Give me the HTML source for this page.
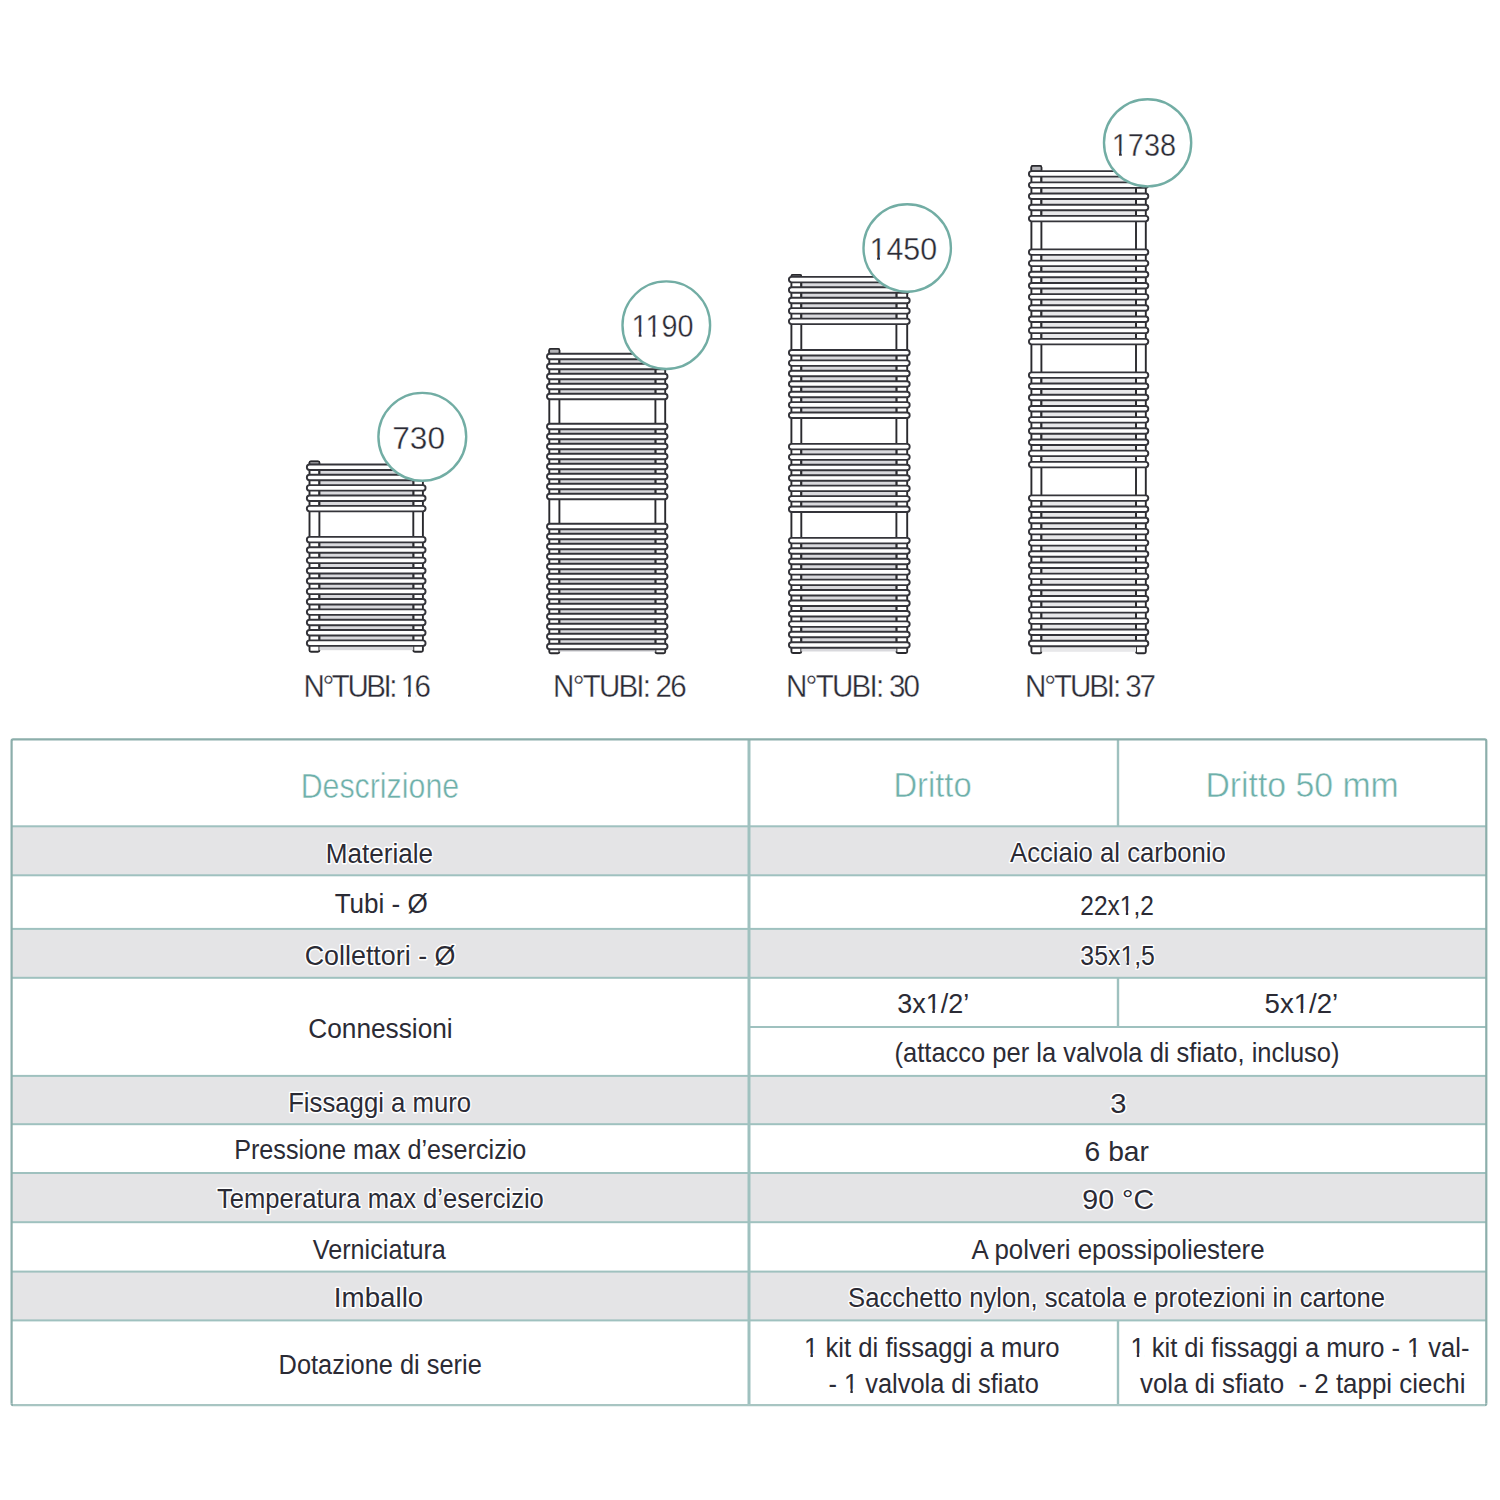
<!DOCTYPE html>
<html><head><meta charset="utf-8"><title>Scheda tecnica</title>
<style>
html,body{margin:0;padding:0;background:#fff;width:1500px;height:1500px;overflow:hidden}
svg{display:block}
text{font-family:"Liberation Sans",sans-serif}
</style></head><body>
<svg width="1500" height="1500" viewBox="0 0 1500 1500">
<rect width="1500" height="1500" fill="#fff"/>
<rect x="309.50" y="461.40" width="9.90" height="190.30" rx="1.5" fill="#fff" stroke="#2a2a2e" stroke-width="1.9"/>
<rect x="413.30" y="461.40" width="9.60" height="190.30" rx="1.5" fill="#fff" stroke="#2a2a2e" stroke-width="1.9"/>
<rect x="309.50" y="461.40" width="9.90" height="3.05" rx="1.2" fill="#b4b4b8" stroke="#2a2a2e" stroke-width="1.5"/>
<rect x="319.40" y="469.95" width="93.90" height="4.85" fill="#d9d9dd"/>
<rect x="318.40" y="469.95" width="2" height="4.85" fill="#2a2a2e"/>
<rect x="412.30" y="469.95" width="2" height="4.85" fill="#2a2a2e"/>
<rect x="319.40" y="480.30" width="93.90" height="4.85" fill="#d9d9dd"/>
<rect x="318.40" y="480.30" width="2" height="4.85" fill="#2a2a2e"/>
<rect x="412.30" y="480.30" width="2" height="4.85" fill="#2a2a2e"/>
<rect x="319.40" y="490.65" width="93.90" height="4.85" fill="#d9d9dd"/>
<rect x="318.40" y="490.65" width="2" height="4.85" fill="#2a2a2e"/>
<rect x="412.30" y="490.65" width="2" height="4.85" fill="#2a2a2e"/>
<rect x="319.40" y="501.00" width="93.90" height="4.85" fill="#d9d9dd"/>
<rect x="318.40" y="501.00" width="2" height="4.85" fill="#2a2a2e"/>
<rect x="412.30" y="501.00" width="2" height="4.85" fill="#2a2a2e"/>
<rect x="319.40" y="542.40" width="93.90" height="4.85" fill="#d9d9dd"/>
<rect x="318.40" y="542.40" width="2" height="4.85" fill="#2a2a2e"/>
<rect x="412.30" y="542.40" width="2" height="4.85" fill="#2a2a2e"/>
<rect x="319.40" y="552.75" width="93.90" height="4.85" fill="#d9d9dd"/>
<rect x="318.40" y="552.75" width="2" height="4.85" fill="#2a2a2e"/>
<rect x="412.30" y="552.75" width="2" height="4.85" fill="#2a2a2e"/>
<rect x="319.40" y="563.10" width="93.90" height="4.85" fill="#d9d9dd"/>
<rect x="318.40" y="563.10" width="2" height="4.85" fill="#2a2a2e"/>
<rect x="412.30" y="563.10" width="2" height="4.85" fill="#2a2a2e"/>
<rect x="319.40" y="573.45" width="93.90" height="4.85" fill="#d9d9dd"/>
<rect x="318.40" y="573.45" width="2" height="4.85" fill="#2a2a2e"/>
<rect x="412.30" y="573.45" width="2" height="4.85" fill="#2a2a2e"/>
<rect x="319.40" y="583.80" width="93.90" height="4.85" fill="#d9d9dd"/>
<rect x="318.40" y="583.80" width="2" height="4.85" fill="#2a2a2e"/>
<rect x="412.30" y="583.80" width="2" height="4.85" fill="#2a2a2e"/>
<rect x="319.40" y="594.15" width="93.90" height="4.85" fill="#d9d9dd"/>
<rect x="318.40" y="594.15" width="2" height="4.85" fill="#2a2a2e"/>
<rect x="412.30" y="594.15" width="2" height="4.85" fill="#2a2a2e"/>
<rect x="319.40" y="604.50" width="93.90" height="4.85" fill="#d9d9dd"/>
<rect x="318.40" y="604.50" width="2" height="4.85" fill="#2a2a2e"/>
<rect x="412.30" y="604.50" width="2" height="4.85" fill="#2a2a2e"/>
<rect x="319.40" y="614.85" width="93.90" height="4.85" fill="#d9d9dd"/>
<rect x="318.40" y="614.85" width="2" height="4.85" fill="#2a2a2e"/>
<rect x="412.30" y="614.85" width="2" height="4.85" fill="#2a2a2e"/>
<rect x="319.40" y="625.20" width="93.90" height="4.85" fill="#d9d9dd"/>
<rect x="318.40" y="625.20" width="2" height="4.85" fill="#2a2a2e"/>
<rect x="412.30" y="625.20" width="2" height="4.85" fill="#2a2a2e"/>
<rect x="319.40" y="635.55" width="93.90" height="4.85" fill="#d9d9dd"/>
<rect x="318.40" y="635.55" width="2" height="4.85" fill="#2a2a2e"/>
<rect x="412.30" y="635.55" width="2" height="4.85" fill="#2a2a2e"/>
<rect x="319.40" y="645.90" width="93.90" height="4.30" fill="#d9d9dd"/>
<rect x="306.85" y="464.45" width="118.70" height="5.50" rx="2.75" fill="#fff" stroke="#34343a" stroke-width="1.9"/>
<rect x="306.85" y="474.80" width="118.70" height="5.50" rx="2.75" fill="#fff" stroke="#34343a" stroke-width="1.9"/>
<rect x="306.85" y="485.15" width="118.70" height="5.50" rx="2.75" fill="#fff" stroke="#34343a" stroke-width="1.9"/>
<rect x="306.85" y="495.50" width="118.70" height="5.50" rx="2.75" fill="#fff" stroke="#34343a" stroke-width="1.9"/>
<rect x="306.85" y="505.85" width="118.70" height="5.50" rx="2.75" fill="#fff" stroke="#34343a" stroke-width="1.9"/>
<rect x="306.85" y="536.90" width="118.70" height="5.50" rx="2.75" fill="#fff" stroke="#34343a" stroke-width="1.9"/>
<rect x="306.85" y="547.25" width="118.70" height="5.50" rx="2.75" fill="#fff" stroke="#34343a" stroke-width="1.9"/>
<rect x="306.85" y="557.60" width="118.70" height="5.50" rx="2.75" fill="#fff" stroke="#34343a" stroke-width="1.9"/>
<rect x="306.85" y="567.95" width="118.70" height="5.50" rx="2.75" fill="#fff" stroke="#34343a" stroke-width="1.9"/>
<rect x="306.85" y="578.30" width="118.70" height="5.50" rx="2.75" fill="#fff" stroke="#34343a" stroke-width="1.9"/>
<rect x="306.85" y="588.65" width="118.70" height="5.50" rx="2.75" fill="#fff" stroke="#34343a" stroke-width="1.9"/>
<rect x="306.85" y="599.00" width="118.70" height="5.50" rx="2.75" fill="#fff" stroke="#34343a" stroke-width="1.9"/>
<rect x="306.85" y="609.35" width="118.70" height="5.50" rx="2.75" fill="#fff" stroke="#34343a" stroke-width="1.9"/>
<rect x="306.85" y="619.70" width="118.70" height="5.50" rx="2.75" fill="#fff" stroke="#34343a" stroke-width="1.9"/>
<rect x="306.85" y="630.05" width="118.70" height="5.50" rx="2.75" fill="#fff" stroke="#34343a" stroke-width="1.9"/>
<rect x="306.85" y="640.40" width="118.70" height="5.50" rx="2.75" fill="#fff" stroke="#34343a" stroke-width="1.9"/>
<rect x="549.30" y="349.00" width="10.10" height="304.30" rx="1.5" fill="#fff" stroke="#2a2a2e" stroke-width="1.9"/>
<rect x="655.40" y="349.00" width="9.80" height="304.30" rx="1.5" fill="#fff" stroke="#2a2a2e" stroke-width="1.9"/>
<rect x="549.30" y="349.00" width="10.10" height="4.75" rx="1.2" fill="#b4b4b8" stroke="#2a2a2e" stroke-width="1.5"/>
<rect x="559.40" y="359.25" width="96.00" height="4.50" fill="#d9d9dd"/>
<rect x="558.40" y="359.25" width="2" height="4.50" fill="#2a2a2e"/>
<rect x="654.40" y="359.25" width="2" height="4.50" fill="#2a2a2e"/>
<rect x="559.40" y="369.25" width="96.00" height="4.50" fill="#d9d9dd"/>
<rect x="558.40" y="369.25" width="2" height="4.50" fill="#2a2a2e"/>
<rect x="654.40" y="369.25" width="2" height="4.50" fill="#2a2a2e"/>
<rect x="559.40" y="379.25" width="96.00" height="4.50" fill="#d9d9dd"/>
<rect x="558.40" y="379.25" width="2" height="4.50" fill="#2a2a2e"/>
<rect x="654.40" y="379.25" width="2" height="4.50" fill="#2a2a2e"/>
<rect x="559.40" y="389.25" width="96.00" height="4.50" fill="#d9d9dd"/>
<rect x="558.40" y="389.25" width="2" height="4.50" fill="#2a2a2e"/>
<rect x="654.40" y="389.25" width="2" height="4.50" fill="#2a2a2e"/>
<rect x="559.40" y="429.25" width="96.00" height="4.50" fill="#d9d9dd"/>
<rect x="558.40" y="429.25" width="2" height="4.50" fill="#2a2a2e"/>
<rect x="654.40" y="429.25" width="2" height="4.50" fill="#2a2a2e"/>
<rect x="559.40" y="439.25" width="96.00" height="4.50" fill="#d9d9dd"/>
<rect x="558.40" y="439.25" width="2" height="4.50" fill="#2a2a2e"/>
<rect x="654.40" y="439.25" width="2" height="4.50" fill="#2a2a2e"/>
<rect x="559.40" y="449.25" width="96.00" height="4.50" fill="#d9d9dd"/>
<rect x="558.40" y="449.25" width="2" height="4.50" fill="#2a2a2e"/>
<rect x="654.40" y="449.25" width="2" height="4.50" fill="#2a2a2e"/>
<rect x="559.40" y="459.25" width="96.00" height="4.50" fill="#d9d9dd"/>
<rect x="558.40" y="459.25" width="2" height="4.50" fill="#2a2a2e"/>
<rect x="654.40" y="459.25" width="2" height="4.50" fill="#2a2a2e"/>
<rect x="559.40" y="469.25" width="96.00" height="4.50" fill="#d9d9dd"/>
<rect x="558.40" y="469.25" width="2" height="4.50" fill="#2a2a2e"/>
<rect x="654.40" y="469.25" width="2" height="4.50" fill="#2a2a2e"/>
<rect x="559.40" y="479.25" width="96.00" height="4.50" fill="#d9d9dd"/>
<rect x="558.40" y="479.25" width="2" height="4.50" fill="#2a2a2e"/>
<rect x="654.40" y="479.25" width="2" height="4.50" fill="#2a2a2e"/>
<rect x="559.40" y="489.25" width="96.00" height="4.50" fill="#d9d9dd"/>
<rect x="558.40" y="489.25" width="2" height="4.50" fill="#2a2a2e"/>
<rect x="654.40" y="489.25" width="2" height="4.50" fill="#2a2a2e"/>
<rect x="559.40" y="529.25" width="96.00" height="4.50" fill="#d9d9dd"/>
<rect x="558.40" y="529.25" width="2" height="4.50" fill="#2a2a2e"/>
<rect x="654.40" y="529.25" width="2" height="4.50" fill="#2a2a2e"/>
<rect x="559.40" y="539.25" width="96.00" height="4.50" fill="#d9d9dd"/>
<rect x="558.40" y="539.25" width="2" height="4.50" fill="#2a2a2e"/>
<rect x="654.40" y="539.25" width="2" height="4.50" fill="#2a2a2e"/>
<rect x="559.40" y="549.25" width="96.00" height="4.50" fill="#d9d9dd"/>
<rect x="558.40" y="549.25" width="2" height="4.50" fill="#2a2a2e"/>
<rect x="654.40" y="549.25" width="2" height="4.50" fill="#2a2a2e"/>
<rect x="559.40" y="559.25" width="96.00" height="4.50" fill="#d9d9dd"/>
<rect x="558.40" y="559.25" width="2" height="4.50" fill="#2a2a2e"/>
<rect x="654.40" y="559.25" width="2" height="4.50" fill="#2a2a2e"/>
<rect x="559.40" y="569.25" width="96.00" height="4.50" fill="#d9d9dd"/>
<rect x="558.40" y="569.25" width="2" height="4.50" fill="#2a2a2e"/>
<rect x="654.40" y="569.25" width="2" height="4.50" fill="#2a2a2e"/>
<rect x="559.40" y="579.25" width="96.00" height="4.50" fill="#d9d9dd"/>
<rect x="558.40" y="579.25" width="2" height="4.50" fill="#2a2a2e"/>
<rect x="654.40" y="579.25" width="2" height="4.50" fill="#2a2a2e"/>
<rect x="559.40" y="589.25" width="96.00" height="4.50" fill="#d9d9dd"/>
<rect x="558.40" y="589.25" width="2" height="4.50" fill="#2a2a2e"/>
<rect x="654.40" y="589.25" width="2" height="4.50" fill="#2a2a2e"/>
<rect x="559.40" y="599.25" width="96.00" height="4.50" fill="#d9d9dd"/>
<rect x="558.40" y="599.25" width="2" height="4.50" fill="#2a2a2e"/>
<rect x="654.40" y="599.25" width="2" height="4.50" fill="#2a2a2e"/>
<rect x="559.40" y="609.25" width="96.00" height="4.50" fill="#d9d9dd"/>
<rect x="558.40" y="609.25" width="2" height="4.50" fill="#2a2a2e"/>
<rect x="654.40" y="609.25" width="2" height="4.50" fill="#2a2a2e"/>
<rect x="559.40" y="619.25" width="96.00" height="4.50" fill="#d9d9dd"/>
<rect x="558.40" y="619.25" width="2" height="4.50" fill="#2a2a2e"/>
<rect x="654.40" y="619.25" width="2" height="4.50" fill="#2a2a2e"/>
<rect x="559.40" y="629.25" width="96.00" height="4.50" fill="#d9d9dd"/>
<rect x="558.40" y="629.25" width="2" height="4.50" fill="#2a2a2e"/>
<rect x="654.40" y="629.25" width="2" height="4.50" fill="#2a2a2e"/>
<rect x="559.40" y="639.25" width="96.00" height="4.50" fill="#d9d9dd"/>
<rect x="558.40" y="639.25" width="2" height="4.50" fill="#2a2a2e"/>
<rect x="654.40" y="639.25" width="2" height="4.50" fill="#2a2a2e"/>
<rect x="559.40" y="649.25" width="96.00" height="2.55" fill="#d9d9dd"/>
<rect x="547.00" y="353.75" width="120.50" height="5.50" rx="2.75" fill="#fff" stroke="#34343a" stroke-width="1.9"/>
<rect x="547.00" y="363.75" width="120.50" height="5.50" rx="2.75" fill="#fff" stroke="#34343a" stroke-width="1.9"/>
<rect x="547.00" y="373.75" width="120.50" height="5.50" rx="2.75" fill="#fff" stroke="#34343a" stroke-width="1.9"/>
<rect x="547.00" y="383.75" width="120.50" height="5.50" rx="2.75" fill="#fff" stroke="#34343a" stroke-width="1.9"/>
<rect x="547.00" y="393.75" width="120.50" height="5.50" rx="2.75" fill="#fff" stroke="#34343a" stroke-width="1.9"/>
<rect x="547.00" y="423.75" width="120.50" height="5.50" rx="2.75" fill="#fff" stroke="#34343a" stroke-width="1.9"/>
<rect x="547.00" y="433.75" width="120.50" height="5.50" rx="2.75" fill="#fff" stroke="#34343a" stroke-width="1.9"/>
<rect x="547.00" y="443.75" width="120.50" height="5.50" rx="2.75" fill="#fff" stroke="#34343a" stroke-width="1.9"/>
<rect x="547.00" y="453.75" width="120.50" height="5.50" rx="2.75" fill="#fff" stroke="#34343a" stroke-width="1.9"/>
<rect x="547.00" y="463.75" width="120.50" height="5.50" rx="2.75" fill="#fff" stroke="#34343a" stroke-width="1.9"/>
<rect x="547.00" y="473.75" width="120.50" height="5.50" rx="2.75" fill="#fff" stroke="#34343a" stroke-width="1.9"/>
<rect x="547.00" y="483.75" width="120.50" height="5.50" rx="2.75" fill="#fff" stroke="#34343a" stroke-width="1.9"/>
<rect x="547.00" y="493.75" width="120.50" height="5.50" rx="2.75" fill="#fff" stroke="#34343a" stroke-width="1.9"/>
<rect x="547.00" y="523.75" width="120.50" height="5.50" rx="2.75" fill="#fff" stroke="#34343a" stroke-width="1.9"/>
<rect x="547.00" y="533.75" width="120.50" height="5.50" rx="2.75" fill="#fff" stroke="#34343a" stroke-width="1.9"/>
<rect x="547.00" y="543.75" width="120.50" height="5.50" rx="2.75" fill="#fff" stroke="#34343a" stroke-width="1.9"/>
<rect x="547.00" y="553.75" width="120.50" height="5.50" rx="2.75" fill="#fff" stroke="#34343a" stroke-width="1.9"/>
<rect x="547.00" y="563.75" width="120.50" height="5.50" rx="2.75" fill="#fff" stroke="#34343a" stroke-width="1.9"/>
<rect x="547.00" y="573.75" width="120.50" height="5.50" rx="2.75" fill="#fff" stroke="#34343a" stroke-width="1.9"/>
<rect x="547.00" y="583.75" width="120.50" height="5.50" rx="2.75" fill="#fff" stroke="#34343a" stroke-width="1.9"/>
<rect x="547.00" y="593.75" width="120.50" height="5.50" rx="2.75" fill="#fff" stroke="#34343a" stroke-width="1.9"/>
<rect x="547.00" y="603.75" width="120.50" height="5.50" rx="2.75" fill="#fff" stroke="#34343a" stroke-width="1.9"/>
<rect x="547.00" y="613.75" width="120.50" height="5.50" rx="2.75" fill="#fff" stroke="#34343a" stroke-width="1.9"/>
<rect x="547.00" y="623.75" width="120.50" height="5.50" rx="2.75" fill="#fff" stroke="#34343a" stroke-width="1.9"/>
<rect x="547.00" y="633.75" width="120.50" height="5.50" rx="2.75" fill="#fff" stroke="#34343a" stroke-width="1.9"/>
<rect x="547.00" y="643.75" width="120.50" height="5.50" rx="2.75" fill="#fff" stroke="#34343a" stroke-width="1.9"/>
<rect x="791.40" y="275.00" width="9.90" height="378.00" rx="1.5" fill="#fff" stroke="#2a2a2e" stroke-width="1.9"/>
<rect x="896.40" y="275.00" width="10.80" height="378.00" rx="1.5" fill="#fff" stroke="#2a2a2e" stroke-width="1.9"/>
<rect x="791.40" y="275.00" width="9.90" height="1.85" rx="1.2" fill="#b4b4b8" stroke="#2a2a2e" stroke-width="1.5"/>
<rect x="801.30" y="282.35" width="95.10" height="4.94" fill="#d9d9dd"/>
<rect x="800.30" y="282.35" width="2" height="4.94" fill="#2a2a2e"/>
<rect x="895.40" y="282.35" width="2" height="4.94" fill="#2a2a2e"/>
<rect x="801.30" y="292.79" width="95.10" height="4.94" fill="#d9d9dd"/>
<rect x="800.30" y="292.79" width="2" height="4.94" fill="#2a2a2e"/>
<rect x="895.40" y="292.79" width="2" height="4.94" fill="#2a2a2e"/>
<rect x="801.30" y="303.23" width="95.10" height="4.94" fill="#d9d9dd"/>
<rect x="800.30" y="303.23" width="2" height="4.94" fill="#2a2a2e"/>
<rect x="895.40" y="303.23" width="2" height="4.94" fill="#2a2a2e"/>
<rect x="801.30" y="313.67" width="95.10" height="4.94" fill="#d9d9dd"/>
<rect x="800.30" y="313.67" width="2" height="4.94" fill="#2a2a2e"/>
<rect x="895.40" y="313.67" width="2" height="4.94" fill="#2a2a2e"/>
<rect x="801.30" y="355.43" width="95.10" height="4.94" fill="#d9d9dd"/>
<rect x="800.30" y="355.43" width="2" height="4.94" fill="#2a2a2e"/>
<rect x="895.40" y="355.43" width="2" height="4.94" fill="#2a2a2e"/>
<rect x="801.30" y="365.87" width="95.10" height="4.94" fill="#d9d9dd"/>
<rect x="800.30" y="365.87" width="2" height="4.94" fill="#2a2a2e"/>
<rect x="895.40" y="365.87" width="2" height="4.94" fill="#2a2a2e"/>
<rect x="801.30" y="376.31" width="95.10" height="4.94" fill="#d9d9dd"/>
<rect x="800.30" y="376.31" width="2" height="4.94" fill="#2a2a2e"/>
<rect x="895.40" y="376.31" width="2" height="4.94" fill="#2a2a2e"/>
<rect x="801.30" y="386.75" width="95.10" height="4.94" fill="#d9d9dd"/>
<rect x="800.30" y="386.75" width="2" height="4.94" fill="#2a2a2e"/>
<rect x="895.40" y="386.75" width="2" height="4.94" fill="#2a2a2e"/>
<rect x="801.30" y="397.19" width="95.10" height="4.94" fill="#d9d9dd"/>
<rect x="800.30" y="397.19" width="2" height="4.94" fill="#2a2a2e"/>
<rect x="895.40" y="397.19" width="2" height="4.94" fill="#2a2a2e"/>
<rect x="801.30" y="407.63" width="95.10" height="4.94" fill="#d9d9dd"/>
<rect x="800.30" y="407.63" width="2" height="4.94" fill="#2a2a2e"/>
<rect x="895.40" y="407.63" width="2" height="4.94" fill="#2a2a2e"/>
<rect x="801.30" y="449.39" width="95.10" height="4.94" fill="#d9d9dd"/>
<rect x="800.30" y="449.39" width="2" height="4.94" fill="#2a2a2e"/>
<rect x="895.40" y="449.39" width="2" height="4.94" fill="#2a2a2e"/>
<rect x="801.30" y="459.83" width="95.10" height="4.94" fill="#d9d9dd"/>
<rect x="800.30" y="459.83" width="2" height="4.94" fill="#2a2a2e"/>
<rect x="895.40" y="459.83" width="2" height="4.94" fill="#2a2a2e"/>
<rect x="801.30" y="470.27" width="95.10" height="4.94" fill="#d9d9dd"/>
<rect x="800.30" y="470.27" width="2" height="4.94" fill="#2a2a2e"/>
<rect x="895.40" y="470.27" width="2" height="4.94" fill="#2a2a2e"/>
<rect x="801.30" y="480.71" width="95.10" height="4.94" fill="#d9d9dd"/>
<rect x="800.30" y="480.71" width="2" height="4.94" fill="#2a2a2e"/>
<rect x="895.40" y="480.71" width="2" height="4.94" fill="#2a2a2e"/>
<rect x="801.30" y="491.15" width="95.10" height="4.94" fill="#d9d9dd"/>
<rect x="800.30" y="491.15" width="2" height="4.94" fill="#2a2a2e"/>
<rect x="895.40" y="491.15" width="2" height="4.94" fill="#2a2a2e"/>
<rect x="801.30" y="501.59" width="95.10" height="4.94" fill="#d9d9dd"/>
<rect x="800.30" y="501.59" width="2" height="4.94" fill="#2a2a2e"/>
<rect x="895.40" y="501.59" width="2" height="4.94" fill="#2a2a2e"/>
<rect x="801.30" y="543.35" width="95.10" height="4.94" fill="#d9d9dd"/>
<rect x="800.30" y="543.35" width="2" height="4.94" fill="#2a2a2e"/>
<rect x="895.40" y="543.35" width="2" height="4.94" fill="#2a2a2e"/>
<rect x="801.30" y="553.79" width="95.10" height="4.94" fill="#d9d9dd"/>
<rect x="800.30" y="553.79" width="2" height="4.94" fill="#2a2a2e"/>
<rect x="895.40" y="553.79" width="2" height="4.94" fill="#2a2a2e"/>
<rect x="801.30" y="564.23" width="95.10" height="4.94" fill="#d9d9dd"/>
<rect x="800.30" y="564.23" width="2" height="4.94" fill="#2a2a2e"/>
<rect x="895.40" y="564.23" width="2" height="4.94" fill="#2a2a2e"/>
<rect x="801.30" y="574.67" width="95.10" height="4.94" fill="#d9d9dd"/>
<rect x="800.30" y="574.67" width="2" height="4.94" fill="#2a2a2e"/>
<rect x="895.40" y="574.67" width="2" height="4.94" fill="#2a2a2e"/>
<rect x="801.30" y="585.11" width="95.10" height="4.94" fill="#d9d9dd"/>
<rect x="800.30" y="585.11" width="2" height="4.94" fill="#2a2a2e"/>
<rect x="895.40" y="585.11" width="2" height="4.94" fill="#2a2a2e"/>
<rect x="801.30" y="595.55" width="95.10" height="4.94" fill="#d9d9dd"/>
<rect x="800.30" y="595.55" width="2" height="4.94" fill="#2a2a2e"/>
<rect x="895.40" y="595.55" width="2" height="4.94" fill="#2a2a2e"/>
<rect x="801.30" y="605.99" width="95.10" height="4.94" fill="#d9d9dd"/>
<rect x="800.30" y="605.99" width="2" height="4.94" fill="#2a2a2e"/>
<rect x="895.40" y="605.99" width="2" height="4.94" fill="#2a2a2e"/>
<rect x="801.30" y="616.43" width="95.10" height="4.94" fill="#d9d9dd"/>
<rect x="800.30" y="616.43" width="2" height="4.94" fill="#2a2a2e"/>
<rect x="895.40" y="616.43" width="2" height="4.94" fill="#2a2a2e"/>
<rect x="801.30" y="626.87" width="95.10" height="4.94" fill="#d9d9dd"/>
<rect x="800.30" y="626.87" width="2" height="4.94" fill="#2a2a2e"/>
<rect x="895.40" y="626.87" width="2" height="4.94" fill="#2a2a2e"/>
<rect x="801.30" y="637.31" width="95.10" height="4.94" fill="#d9d9dd"/>
<rect x="800.30" y="637.31" width="2" height="4.94" fill="#2a2a2e"/>
<rect x="895.40" y="637.31" width="2" height="4.94" fill="#2a2a2e"/>
<rect x="801.30" y="647.75" width="95.10" height="3.75" fill="#d9d9dd"/>
<rect x="788.90" y="276.85" width="120.80" height="5.50" rx="2.75" fill="#fff" stroke="#34343a" stroke-width="1.9"/>
<rect x="788.90" y="287.29" width="120.80" height="5.50" rx="2.75" fill="#fff" stroke="#34343a" stroke-width="1.9"/>
<rect x="788.90" y="297.73" width="120.80" height="5.50" rx="2.75" fill="#fff" stroke="#34343a" stroke-width="1.9"/>
<rect x="788.90" y="308.17" width="120.80" height="5.50" rx="2.75" fill="#fff" stroke="#34343a" stroke-width="1.9"/>
<rect x="788.90" y="318.61" width="120.80" height="5.50" rx="2.75" fill="#fff" stroke="#34343a" stroke-width="1.9"/>
<rect x="788.90" y="349.93" width="120.80" height="5.50" rx="2.75" fill="#fff" stroke="#34343a" stroke-width="1.9"/>
<rect x="788.90" y="360.37" width="120.80" height="5.50" rx="2.75" fill="#fff" stroke="#34343a" stroke-width="1.9"/>
<rect x="788.90" y="370.81" width="120.80" height="5.50" rx="2.75" fill="#fff" stroke="#34343a" stroke-width="1.9"/>
<rect x="788.90" y="381.25" width="120.80" height="5.50" rx="2.75" fill="#fff" stroke="#34343a" stroke-width="1.9"/>
<rect x="788.90" y="391.69" width="120.80" height="5.50" rx="2.75" fill="#fff" stroke="#34343a" stroke-width="1.9"/>
<rect x="788.90" y="402.13" width="120.80" height="5.50" rx="2.75" fill="#fff" stroke="#34343a" stroke-width="1.9"/>
<rect x="788.90" y="412.57" width="120.80" height="5.50" rx="2.75" fill="#fff" stroke="#34343a" stroke-width="1.9"/>
<rect x="788.90" y="443.89" width="120.80" height="5.50" rx="2.75" fill="#fff" stroke="#34343a" stroke-width="1.9"/>
<rect x="788.90" y="454.33" width="120.80" height="5.50" rx="2.75" fill="#fff" stroke="#34343a" stroke-width="1.9"/>
<rect x="788.90" y="464.77" width="120.80" height="5.50" rx="2.75" fill="#fff" stroke="#34343a" stroke-width="1.9"/>
<rect x="788.90" y="475.21" width="120.80" height="5.50" rx="2.75" fill="#fff" stroke="#34343a" stroke-width="1.9"/>
<rect x="788.90" y="485.65" width="120.80" height="5.50" rx="2.75" fill="#fff" stroke="#34343a" stroke-width="1.9"/>
<rect x="788.90" y="496.09" width="120.80" height="5.50" rx="2.75" fill="#fff" stroke="#34343a" stroke-width="1.9"/>
<rect x="788.90" y="506.53" width="120.80" height="5.50" rx="2.75" fill="#fff" stroke="#34343a" stroke-width="1.9"/>
<rect x="788.90" y="537.85" width="120.80" height="5.50" rx="2.75" fill="#fff" stroke="#34343a" stroke-width="1.9"/>
<rect x="788.90" y="548.29" width="120.80" height="5.50" rx="2.75" fill="#fff" stroke="#34343a" stroke-width="1.9"/>
<rect x="788.90" y="558.73" width="120.80" height="5.50" rx="2.75" fill="#fff" stroke="#34343a" stroke-width="1.9"/>
<rect x="788.90" y="569.17" width="120.80" height="5.50" rx="2.75" fill="#fff" stroke="#34343a" stroke-width="1.9"/>
<rect x="788.90" y="579.61" width="120.80" height="5.50" rx="2.75" fill="#fff" stroke="#34343a" stroke-width="1.9"/>
<rect x="788.90" y="590.05" width="120.80" height="5.50" rx="2.75" fill="#fff" stroke="#34343a" stroke-width="1.9"/>
<rect x="788.90" y="600.49" width="120.80" height="5.50" rx="2.75" fill="#fff" stroke="#34343a" stroke-width="1.9"/>
<rect x="788.90" y="610.93" width="120.80" height="5.50" rx="2.75" fill="#fff" stroke="#34343a" stroke-width="1.9"/>
<rect x="788.90" y="621.37" width="120.80" height="5.50" rx="2.75" fill="#fff" stroke="#34343a" stroke-width="1.9"/>
<rect x="788.90" y="631.81" width="120.80" height="5.50" rx="2.75" fill="#fff" stroke="#34343a" stroke-width="1.9"/>
<rect x="788.90" y="642.25" width="120.80" height="5.50" rx="2.75" fill="#fff" stroke="#34343a" stroke-width="1.9"/>
<rect x="1031.40" y="166.00" width="10.00" height="487.30" rx="1.5" fill="#fff" stroke="#2a2a2e" stroke-width="1.9"/>
<rect x="1136.00" y="166.00" width="9.80" height="487.30" rx="1.5" fill="#fff" stroke="#2a2a2e" stroke-width="1.9"/>
<rect x="1031.40" y="166.00" width="10.00" height="5.15" rx="1.2" fill="#b4b4b8" stroke="#2a2a2e" stroke-width="1.5"/>
<rect x="1041.40" y="176.65" width="94.60" height="5.68" fill="#e8e8ea"/>
<rect x="1040.40" y="176.65" width="2" height="5.68" fill="#2a2a2e"/>
<rect x="1135.00" y="176.65" width="2" height="5.68" fill="#2a2a2e"/>
<rect x="1041.40" y="187.83" width="94.60" height="5.68" fill="#e8e8ea"/>
<rect x="1040.40" y="187.83" width="2" height="5.68" fill="#2a2a2e"/>
<rect x="1135.00" y="187.83" width="2" height="5.68" fill="#2a2a2e"/>
<rect x="1041.40" y="199.01" width="94.60" height="5.68" fill="#e8e8ea"/>
<rect x="1040.40" y="199.01" width="2" height="5.68" fill="#2a2a2e"/>
<rect x="1135.00" y="199.01" width="2" height="5.68" fill="#2a2a2e"/>
<rect x="1041.40" y="210.19" width="94.60" height="5.68" fill="#e8e8ea"/>
<rect x="1040.40" y="210.19" width="2" height="5.68" fill="#2a2a2e"/>
<rect x="1135.00" y="210.19" width="2" height="5.68" fill="#2a2a2e"/>
<rect x="1041.40" y="254.91" width="94.60" height="5.68" fill="#e8e8ea"/>
<rect x="1040.40" y="254.91" width="2" height="5.68" fill="#2a2a2e"/>
<rect x="1135.00" y="254.91" width="2" height="5.68" fill="#2a2a2e"/>
<rect x="1041.40" y="266.09" width="94.60" height="5.68" fill="#e8e8ea"/>
<rect x="1040.40" y="266.09" width="2" height="5.68" fill="#2a2a2e"/>
<rect x="1135.00" y="266.09" width="2" height="5.68" fill="#2a2a2e"/>
<rect x="1041.40" y="277.27" width="94.60" height="5.68" fill="#e8e8ea"/>
<rect x="1040.40" y="277.27" width="2" height="5.68" fill="#2a2a2e"/>
<rect x="1135.00" y="277.27" width="2" height="5.68" fill="#2a2a2e"/>
<rect x="1041.40" y="288.45" width="94.60" height="5.68" fill="#e8e8ea"/>
<rect x="1040.40" y="288.45" width="2" height="5.68" fill="#2a2a2e"/>
<rect x="1135.00" y="288.45" width="2" height="5.68" fill="#2a2a2e"/>
<rect x="1041.40" y="299.63" width="94.60" height="5.68" fill="#e8e8ea"/>
<rect x="1040.40" y="299.63" width="2" height="5.68" fill="#2a2a2e"/>
<rect x="1135.00" y="299.63" width="2" height="5.68" fill="#2a2a2e"/>
<rect x="1041.40" y="310.81" width="94.60" height="5.68" fill="#e8e8ea"/>
<rect x="1040.40" y="310.81" width="2" height="5.68" fill="#2a2a2e"/>
<rect x="1135.00" y="310.81" width="2" height="5.68" fill="#2a2a2e"/>
<rect x="1041.40" y="321.99" width="94.60" height="5.68" fill="#e8e8ea"/>
<rect x="1040.40" y="321.99" width="2" height="5.68" fill="#2a2a2e"/>
<rect x="1135.00" y="321.99" width="2" height="5.68" fill="#2a2a2e"/>
<rect x="1041.40" y="333.17" width="94.60" height="5.68" fill="#e8e8ea"/>
<rect x="1040.40" y="333.17" width="2" height="5.68" fill="#2a2a2e"/>
<rect x="1135.00" y="333.17" width="2" height="5.68" fill="#2a2a2e"/>
<rect x="1041.40" y="377.89" width="94.60" height="5.68" fill="#e8e8ea"/>
<rect x="1040.40" y="377.89" width="2" height="5.68" fill="#2a2a2e"/>
<rect x="1135.00" y="377.89" width="2" height="5.68" fill="#2a2a2e"/>
<rect x="1041.40" y="389.07" width="94.60" height="5.68" fill="#e8e8ea"/>
<rect x="1040.40" y="389.07" width="2" height="5.68" fill="#2a2a2e"/>
<rect x="1135.00" y="389.07" width="2" height="5.68" fill="#2a2a2e"/>
<rect x="1041.40" y="400.25" width="94.60" height="5.68" fill="#e8e8ea"/>
<rect x="1040.40" y="400.25" width="2" height="5.68" fill="#2a2a2e"/>
<rect x="1135.00" y="400.25" width="2" height="5.68" fill="#2a2a2e"/>
<rect x="1041.40" y="411.43" width="94.60" height="5.68" fill="#e8e8ea"/>
<rect x="1040.40" y="411.43" width="2" height="5.68" fill="#2a2a2e"/>
<rect x="1135.00" y="411.43" width="2" height="5.68" fill="#2a2a2e"/>
<rect x="1041.40" y="422.61" width="94.60" height="5.68" fill="#e8e8ea"/>
<rect x="1040.40" y="422.61" width="2" height="5.68" fill="#2a2a2e"/>
<rect x="1135.00" y="422.61" width="2" height="5.68" fill="#2a2a2e"/>
<rect x="1041.40" y="433.79" width="94.60" height="5.68" fill="#e8e8ea"/>
<rect x="1040.40" y="433.79" width="2" height="5.68" fill="#2a2a2e"/>
<rect x="1135.00" y="433.79" width="2" height="5.68" fill="#2a2a2e"/>
<rect x="1041.40" y="444.97" width="94.60" height="5.68" fill="#e8e8ea"/>
<rect x="1040.40" y="444.97" width="2" height="5.68" fill="#2a2a2e"/>
<rect x="1135.00" y="444.97" width="2" height="5.68" fill="#2a2a2e"/>
<rect x="1041.40" y="456.15" width="94.60" height="5.68" fill="#e8e8ea"/>
<rect x="1040.40" y="456.15" width="2" height="5.68" fill="#2a2a2e"/>
<rect x="1135.00" y="456.15" width="2" height="5.68" fill="#2a2a2e"/>
<rect x="1041.40" y="500.87" width="94.60" height="5.68" fill="#e8e8ea"/>
<rect x="1040.40" y="500.87" width="2" height="5.68" fill="#2a2a2e"/>
<rect x="1135.00" y="500.87" width="2" height="5.68" fill="#2a2a2e"/>
<rect x="1041.40" y="512.05" width="94.60" height="5.68" fill="#e8e8ea"/>
<rect x="1040.40" y="512.05" width="2" height="5.68" fill="#2a2a2e"/>
<rect x="1135.00" y="512.05" width="2" height="5.68" fill="#2a2a2e"/>
<rect x="1041.40" y="523.23" width="94.60" height="5.68" fill="#e8e8ea"/>
<rect x="1040.40" y="523.23" width="2" height="5.68" fill="#2a2a2e"/>
<rect x="1135.00" y="523.23" width="2" height="5.68" fill="#2a2a2e"/>
<rect x="1041.40" y="534.41" width="94.60" height="5.68" fill="#e8e8ea"/>
<rect x="1040.40" y="534.41" width="2" height="5.68" fill="#2a2a2e"/>
<rect x="1135.00" y="534.41" width="2" height="5.68" fill="#2a2a2e"/>
<rect x="1041.40" y="545.59" width="94.60" height="5.68" fill="#e8e8ea"/>
<rect x="1040.40" y="545.59" width="2" height="5.68" fill="#2a2a2e"/>
<rect x="1135.00" y="545.59" width="2" height="5.68" fill="#2a2a2e"/>
<rect x="1041.40" y="556.77" width="94.60" height="5.68" fill="#e8e8ea"/>
<rect x="1040.40" y="556.77" width="2" height="5.68" fill="#2a2a2e"/>
<rect x="1135.00" y="556.77" width="2" height="5.68" fill="#2a2a2e"/>
<rect x="1041.40" y="567.95" width="94.60" height="5.68" fill="#e8e8ea"/>
<rect x="1040.40" y="567.95" width="2" height="5.68" fill="#2a2a2e"/>
<rect x="1135.00" y="567.95" width="2" height="5.68" fill="#2a2a2e"/>
<rect x="1041.40" y="579.13" width="94.60" height="5.68" fill="#e8e8ea"/>
<rect x="1040.40" y="579.13" width="2" height="5.68" fill="#2a2a2e"/>
<rect x="1135.00" y="579.13" width="2" height="5.68" fill="#2a2a2e"/>
<rect x="1041.40" y="590.31" width="94.60" height="5.68" fill="#e8e8ea"/>
<rect x="1040.40" y="590.31" width="2" height="5.68" fill="#2a2a2e"/>
<rect x="1135.00" y="590.31" width="2" height="5.68" fill="#2a2a2e"/>
<rect x="1041.40" y="601.49" width="94.60" height="5.68" fill="#e8e8ea"/>
<rect x="1040.40" y="601.49" width="2" height="5.68" fill="#2a2a2e"/>
<rect x="1135.00" y="601.49" width="2" height="5.68" fill="#2a2a2e"/>
<rect x="1041.40" y="612.67" width="94.60" height="5.68" fill="#e8e8ea"/>
<rect x="1040.40" y="612.67" width="2" height="5.68" fill="#2a2a2e"/>
<rect x="1135.00" y="612.67" width="2" height="5.68" fill="#2a2a2e"/>
<rect x="1041.40" y="623.85" width="94.60" height="5.68" fill="#e8e8ea"/>
<rect x="1040.40" y="623.85" width="2" height="5.68" fill="#2a2a2e"/>
<rect x="1135.00" y="623.85" width="2" height="5.68" fill="#2a2a2e"/>
<rect x="1041.40" y="635.03" width="94.60" height="5.68" fill="#e8e8ea"/>
<rect x="1040.40" y="635.03" width="2" height="5.68" fill="#2a2a2e"/>
<rect x="1135.00" y="635.03" width="2" height="5.68" fill="#2a2a2e"/>
<rect x="1041.40" y="646.21" width="94.60" height="5.59" fill="#e8e8ea"/>
<rect x="1028.90" y="171.15" width="119.40" height="5.50" rx="2.75" fill="#fff" stroke="#34343a" stroke-width="1.9"/>
<rect x="1028.90" y="182.33" width="119.40" height="5.50" rx="2.75" fill="#fff" stroke="#34343a" stroke-width="1.9"/>
<rect x="1028.90" y="193.51" width="119.40" height="5.50" rx="2.75" fill="#fff" stroke="#34343a" stroke-width="1.9"/>
<rect x="1028.90" y="204.69" width="119.40" height="5.50" rx="2.75" fill="#fff" stroke="#34343a" stroke-width="1.9"/>
<rect x="1028.90" y="215.87" width="119.40" height="5.50" rx="2.75" fill="#fff" stroke="#34343a" stroke-width="1.9"/>
<rect x="1028.90" y="249.41" width="119.40" height="5.50" rx="2.75" fill="#fff" stroke="#34343a" stroke-width="1.9"/>
<rect x="1028.90" y="260.59" width="119.40" height="5.50" rx="2.75" fill="#fff" stroke="#34343a" stroke-width="1.9"/>
<rect x="1028.90" y="271.77" width="119.40" height="5.50" rx="2.75" fill="#fff" stroke="#34343a" stroke-width="1.9"/>
<rect x="1028.90" y="282.95" width="119.40" height="5.50" rx="2.75" fill="#fff" stroke="#34343a" stroke-width="1.9"/>
<rect x="1028.90" y="294.13" width="119.40" height="5.50" rx="2.75" fill="#fff" stroke="#34343a" stroke-width="1.9"/>
<rect x="1028.90" y="305.31" width="119.40" height="5.50" rx="2.75" fill="#fff" stroke="#34343a" stroke-width="1.9"/>
<rect x="1028.90" y="316.49" width="119.40" height="5.50" rx="2.75" fill="#fff" stroke="#34343a" stroke-width="1.9"/>
<rect x="1028.90" y="327.67" width="119.40" height="5.50" rx="2.75" fill="#fff" stroke="#34343a" stroke-width="1.9"/>
<rect x="1028.90" y="338.85" width="119.40" height="5.50" rx="2.75" fill="#fff" stroke="#34343a" stroke-width="1.9"/>
<rect x="1028.90" y="372.39" width="119.40" height="5.50" rx="2.75" fill="#fff" stroke="#34343a" stroke-width="1.9"/>
<rect x="1028.90" y="383.57" width="119.40" height="5.50" rx="2.75" fill="#fff" stroke="#34343a" stroke-width="1.9"/>
<rect x="1028.90" y="394.75" width="119.40" height="5.50" rx="2.75" fill="#fff" stroke="#34343a" stroke-width="1.9"/>
<rect x="1028.90" y="405.93" width="119.40" height="5.50" rx="2.75" fill="#fff" stroke="#34343a" stroke-width="1.9"/>
<rect x="1028.90" y="417.11" width="119.40" height="5.50" rx="2.75" fill="#fff" stroke="#34343a" stroke-width="1.9"/>
<rect x="1028.90" y="428.29" width="119.40" height="5.50" rx="2.75" fill="#fff" stroke="#34343a" stroke-width="1.9"/>
<rect x="1028.90" y="439.47" width="119.40" height="5.50" rx="2.75" fill="#fff" stroke="#34343a" stroke-width="1.9"/>
<rect x="1028.90" y="450.65" width="119.40" height="5.50" rx="2.75" fill="#fff" stroke="#34343a" stroke-width="1.9"/>
<rect x="1028.90" y="461.83" width="119.40" height="5.50" rx="2.75" fill="#fff" stroke="#34343a" stroke-width="1.9"/>
<rect x="1028.90" y="495.37" width="119.40" height="5.50" rx="2.75" fill="#fff" stroke="#34343a" stroke-width="1.9"/>
<rect x="1028.90" y="506.55" width="119.40" height="5.50" rx="2.75" fill="#fff" stroke="#34343a" stroke-width="1.9"/>
<rect x="1028.90" y="517.73" width="119.40" height="5.50" rx="2.75" fill="#fff" stroke="#34343a" stroke-width="1.9"/>
<rect x="1028.90" y="528.91" width="119.40" height="5.50" rx="2.75" fill="#fff" stroke="#34343a" stroke-width="1.9"/>
<rect x="1028.90" y="540.09" width="119.40" height="5.50" rx="2.75" fill="#fff" stroke="#34343a" stroke-width="1.9"/>
<rect x="1028.90" y="551.27" width="119.40" height="5.50" rx="2.75" fill="#fff" stroke="#34343a" stroke-width="1.9"/>
<rect x="1028.90" y="562.45" width="119.40" height="5.50" rx="2.75" fill="#fff" stroke="#34343a" stroke-width="1.9"/>
<rect x="1028.90" y="573.63" width="119.40" height="5.50" rx="2.75" fill="#fff" stroke="#34343a" stroke-width="1.9"/>
<rect x="1028.90" y="584.81" width="119.40" height="5.50" rx="2.75" fill="#fff" stroke="#34343a" stroke-width="1.9"/>
<rect x="1028.90" y="595.99" width="119.40" height="5.50" rx="2.75" fill="#fff" stroke="#34343a" stroke-width="1.9"/>
<rect x="1028.90" y="607.17" width="119.40" height="5.50" rx="2.75" fill="#fff" stroke="#34343a" stroke-width="1.9"/>
<rect x="1028.90" y="618.35" width="119.40" height="5.50" rx="2.75" fill="#fff" stroke="#34343a" stroke-width="1.9"/>
<rect x="1028.90" y="629.53" width="119.40" height="5.50" rx="2.75" fill="#fff" stroke="#34343a" stroke-width="1.9"/>
<rect x="1028.90" y="640.71" width="119.40" height="5.50" rx="2.75" fill="#fff" stroke="#34343a" stroke-width="1.9"/>
<circle cx="422.3" cy="436.8" r="43.9" fill="#fff" stroke="#72ada4" stroke-width="2.4"/>
<circle cx="666.3" cy="325.2" r="43.8" fill="#fff" stroke="#72ada4" stroke-width="2.4"/>
<circle cx="907.2" cy="248.0" r="43.7" fill="#fff" stroke="#72ada4" stroke-width="2.4"/>
<circle cx="1147.6" cy="142.8" r="43.6" fill="#fff" stroke="#72ada4" stroke-width="2.4"/>
<rect x="11.6" y="826.3" width="1474.7" height="49.0" fill="#e4e4e6"/>
<rect x="11.6" y="928.9" width="1474.7" height="48.89999999999998" fill="#e4e4e6"/>
<rect x="11.6" y="1075.9" width="1474.7" height="48.299999999999955" fill="#e4e4e6"/>
<rect x="11.6" y="1173.0" width="1474.7" height="49.200000000000045" fill="#e4e4e6"/>
<rect x="11.6" y="1271.6" width="1474.7" height="48.80000000000018" fill="#e4e4e6"/>
<rect x="11.6" y="825.3" width="1474.7" height="2" fill="#9fc1bf"/>
<rect x="11.6" y="874.3" width="1474.7" height="2" fill="#9fc1bf"/>
<rect x="11.6" y="927.9" width="1474.7" height="2" fill="#9fc1bf"/>
<rect x="11.6" y="976.8" width="1474.7" height="2" fill="#9fc1bf"/>
<rect x="11.6" y="1074.9" width="1474.7" height="2" fill="#9fc1bf"/>
<rect x="11.6" y="1123.2" width="1474.7" height="2" fill="#9fc1bf"/>
<rect x="11.6" y="1172.0" width="1474.7" height="2" fill="#9fc1bf"/>
<rect x="11.6" y="1221.2" width="1474.7" height="2" fill="#9fc1bf"/>
<rect x="11.6" y="1270.6" width="1474.7" height="2" fill="#9fc1bf"/>
<rect x="11.6" y="1319.4" width="1474.7" height="2" fill="#9fc1bf"/>
<rect x="749" y="1026" width="737.3" height="2" fill="#9fc1bf"/>
<rect x="747.5" y="739.4" width="3" height="665.6999999999999" fill="#9fc1bf"/>
<rect x="1116.8" y="739.4" width="2.4" height="86.89999999999998" fill="#9fc1bf"/>
<rect x="1116.8" y="977.8" width="2.4" height="49.200000000000045" fill="#9fc1bf"/>
<rect x="1116.8" y="1320.4" width="2.4" height="84.69999999999982" fill="#9fc1bf"/>
<path d="M13.1,1405.1 H1484.8" stroke="#a8c5c2" stroke-width="2.2" fill="none"/>
<path d="M11.6,1403.6 V740.9 Q11.6,739.4 13.1,739.4 H1484.8 Q1486.3,739.4 1486.3,740.9 V1403.6" stroke="#8caeab" stroke-width="2.2" fill="none"/>
<path d="M11.6,1403.6 Q11.6,1405.1 13.1,1405.1 M1484.8,1405.1 Q1486.3,1405.1 1486.3,1403.6" stroke="#8caeab" stroke-width="2.2" fill="none"/>
<defs><clipPath id="c1" clipPathUnits="userSpaceOnUse"><path clip-rule="evenodd" d="M-50,-200H2000V200H-50ZM0.61,-4.54H7.70V3.00H0.61ZM10.63,-4.54H22.63V3.00H10.63ZM25.55,-4.54H31.88V3.00H25.55Z"/></clipPath><clipPath id="c2" clipPathUnits="userSpaceOnUse"><path clip-rule="evenodd" d="M-50,-200H2000V200H-50ZM0.61,-4.54H7.70V3.00H0.61ZM10.63,-4.54H16.95V3.00H10.63Z"/></clipPath><clipPath id="c3" clipPathUnits="userSpaceOnUse"><path clip-rule="evenodd" d="M-50,-200H2000V200H-50ZM0.61,-4.54H7.70V3.00H0.61ZM10.63,-4.54H16.95V3.00H10.63Z"/></clipPath><clipPath id="c4" clipPathUnits="userSpaceOnUse"><path clip-rule="evenodd" d="M-50,-200H2000V200H-50ZM101.65,-4.51H108.70V3.00H101.65ZM111.60,-4.51H116.97V3.00H111.60Z"/></clipPath><clipPath id="c22" clipPathUnits="userSpaceOnUse"><path clip-rule="evenodd" d="M-50,-200H2000V200H-50ZM45.68,-4.10H52.09V3.00H45.68ZM54.73,-4.10H60.44V3.00H54.73Z"/></clipPath><clipPath id="c23" clipPathUnits="userSpaceOnUse"><path clip-rule="evenodd" d="M-50,-200H2000V200H-50ZM45.68,-4.10H52.09V3.00H45.68ZM54.73,-4.10H60.44V3.00H54.73Z"/></clipPath><clipPath id="c24" clipPathUnits="userSpaceOnUse"><path clip-rule="evenodd" d="M-50,-200H2000V200H-50ZM30.09,-4.10H36.50V3.00H30.09ZM39.14,-4.10H44.86V3.00H39.14Z"/></clipPath><clipPath id="c25" clipPathUnits="userSpaceOnUse"><path clip-rule="evenodd" d="M-50,-200H2000V200H-50ZM30.09,-4.10H36.50V3.00H30.09ZM39.14,-4.10H44.86V3.00H39.14Z"/></clipPath><clipPath id="c32" clipPathUnits="userSpaceOnUse"><path clip-rule="evenodd" d="M-50,-200H2000V200H-50ZM0.55,-4.10H6.96V3.00H0.55ZM9.60,-4.10H15.31V3.00H9.60Z"/></clipPath><clipPath id="c33" clipPathUnits="userSpaceOnUse"><path clip-rule="evenodd" d="M-50,-200H2000V200H-50ZM17.64,-4.10H24.05V3.00H17.64ZM26.69,-4.10H32.40V3.00H26.69Z"/></clipPath><clipPath id="c34" clipPathUnits="userSpaceOnUse"><path clip-rule="evenodd" d="M-50,-200H2000V200H-50ZM0.55,-4.10H6.96V3.00H0.55ZM9.60,-4.10H15.31V3.00H9.60ZM303.86,-4.10H310.28V3.00H303.86ZM312.91,-4.10H318.63V3.00H312.91Z"/></clipPath></defs>
<text transform="translate(392.26,449.0) scale(1.0204,1)" font-size="31.0" fill="#2b2b35" stroke="#fff" stroke-width="0.35" xml:space="preserve">730</text>
<text clip-path="url(#c1)" transform="translate(631.62,336.6) scale(0.927,1)" font-size="31.0" fill="#2b2b35" stroke="#fff" stroke-width="0.35" xml:space="preserve">1190</text>
<text clip-path="url(#c2)" transform="translate(869.56,260.1) scale(0.98,1)" font-size="31.0" fill="#2b2b35" stroke="#fff" stroke-width="0.35" xml:space="preserve">1450</text>
<text clip-path="url(#c3)" transform="translate(1111.81,155.5) scale(0.9308,1)" font-size="31.0" fill="#2b2b35" stroke="#fff" stroke-width="0.35" xml:space="preserve">1738</text>
<text clip-path="url(#c4)" transform="translate(303.62,697.3) scale(0.96,1)" font-size="30.8" letter-spacing="-2.595" fill="#2b2b35" stroke="#fff" stroke-width="0.35" xml:space="preserve">N°TUBI: 16</text>
<text transform="translate(553.12,697.0) scale(0.96,1)" font-size="30.8" letter-spacing="-1.889" fill="#2b2b35" stroke="#fff" stroke-width="0.35" xml:space="preserve">N°TUBI: 26</text>
<text transform="translate(786.02,697.0) scale(0.96,1)" font-size="30.8" letter-spacing="-1.831" fill="#2b2b35" stroke="#fff" stroke-width="0.35" xml:space="preserve">N°TUBI: 30</text>
<text transform="translate(1024.92,697.0) scale(0.96,1)" font-size="30.8" letter-spacing="-2.167" fill="#2b2b35" stroke="#fff" stroke-width="0.35" xml:space="preserve">N°TUBI: 37</text>
<text transform="translate(300.63,797.8) scale(0.8552,1)" font-size="35.5" fill="#6eb0aa" stroke="#fff" stroke-width="0.5" xml:space="preserve">Descrizione</text>
<text transform="translate(893.43,797.4) scale(0.9225,1)" font-size="35.5" fill="#6eb0aa" stroke="#fff" stroke-width="0.5" xml:space="preserve">Dritto</text>
<text transform="translate(1205.44,797.4) scale(0.952,1)" font-size="35.5" fill="#6eb0aa" stroke="#fff" stroke-width="0.5" xml:space="preserve">Dritto 50 mm</text>
<text transform="translate(325.74,862.6) scale(0.9321,1)" font-size="28.0" fill="#fff" stroke="#fff" stroke-width="3" stroke-linejoin="round" xml:space="preserve">Materiale</text>
<text transform="translate(325.74,862.6) scale(0.9321,1)" font-size="28.0" fill="#2b2b35" xml:space="preserve">Materiale</text>
<text transform="translate(334.67,912.8) scale(0.9306,1)" font-size="28.0" fill="#2b2b35" xml:space="preserve">Tubi - Ø</text>
<text transform="translate(304.64,965.2) scale(0.96,1)" font-size="28.0" fill="#fff" stroke="#fff" stroke-width="3" stroke-linejoin="round" xml:space="preserve">Collettori - Ø</text>
<text transform="translate(304.64,965.2) scale(0.96,1)" font-size="28.0" fill="#2b2b35" xml:space="preserve">Collettori - Ø</text>
<text transform="translate(308.26,1037.6) scale(0.9377,1)" font-size="28.0" fill="#2b2b35" xml:space="preserve">Connessioni</text>
<text transform="translate(288.16,1112.4) scale(0.9184,1)" font-size="28.0" fill="#fff" stroke="#fff" stroke-width="3" stroke-linejoin="round" xml:space="preserve">Fissaggi a muro</text>
<text transform="translate(288.16,1112.4) scale(0.9184,1)" font-size="28.0" fill="#2b2b35" xml:space="preserve">Fissaggi a muro</text>
<text transform="translate(234.2,1159.2) scale(0.8981,1)" font-size="28.0" fill="#2b2b35" xml:space="preserve">Pressione max d’esercizio</text>
<text transform="translate(217.09,1208.4) scale(0.9135,1)" font-size="28.0" fill="#fff" stroke="#fff" stroke-width="3" stroke-linejoin="round" xml:space="preserve">Temperatura max d’esercizio</text>
<text transform="translate(217.09,1208.4) scale(0.9135,1)" font-size="28.0" fill="#2b2b35" xml:space="preserve">Temperatura max d’esercizio</text>
<text transform="translate(312.8,1258.8) scale(0.9,1)" font-size="28.0" fill="#2b2b35" xml:space="preserve">Verniciatura</text>
<text transform="translate(333.83,1306.8) scale(0.9907,1)" font-size="28.0" fill="#fff" stroke="#fff" stroke-width="3" stroke-linejoin="round" xml:space="preserve">Imballo</text>
<text transform="translate(333.83,1306.8) scale(0.9907,1)" font-size="28.0" fill="#2b2b35" xml:space="preserve">Imballo</text>
<text transform="translate(278.59,1374.0) scale(0.9068,1)" font-size="28.0" fill="#2b2b35" xml:space="preserve">Dotazione di serie</text>
<text transform="translate(1010.0,861.9) scale(0.9188,1)" font-size="28.0" fill="#fff" stroke="#fff" stroke-width="3" stroke-linejoin="round" xml:space="preserve">Acciaio al carbonio</text>
<text transform="translate(1010.0,861.9) scale(0.9188,1)" font-size="28.0" fill="#2b2b35" xml:space="preserve">Acciaio al carbonio</text>
<text clip-path="url(#c22)" transform="translate(1080.33,914.7) scale(0.8744,1)" font-size="28.0" fill="#2b2b35" xml:space="preserve">22x1,2</text>
<text clip-path="url(#c23)" transform="translate(1080.31,965.0) scale(0.8878,1)" font-size="28.0" fill="#fff" stroke="#fff" stroke-width="3" stroke-linejoin="round" xml:space="preserve">35x1,5</text>
<text clip-path="url(#c23)" transform="translate(1080.31,965.0) scale(0.8878,1)" font-size="28.0" fill="#2b2b35" xml:space="preserve">35x1,5</text>
<text clip-path="url(#c24)" transform="translate(897.14,1013.4) scale(0.9639,1)" font-size="28.0" fill="#2b2b35" xml:space="preserve">3x1/2’</text>
<text clip-path="url(#c25)" transform="translate(1264.51,1013.4) scale(0.9875,1)" font-size="28.0" fill="#2b2b35" xml:space="preserve">5x1/2’</text>
<text transform="translate(894.58,1062.0) scale(0.9111,1)" font-size="28.0" fill="#2b2b35" xml:space="preserve">(attacco per la valvola di sfiato, incluso)</text>
<text transform="translate(1110.2,1112.6) scale(1.04,1)" font-size="28.0" fill="#fff" stroke="#fff" stroke-width="3" stroke-linejoin="round" xml:space="preserve">3</text>
<text transform="translate(1110.2,1112.6) scale(1.04,1)" font-size="28.0" fill="#2b2b35" xml:space="preserve">3</text>
<text transform="translate(1084.59,1160.7) scale(1.0081,1)" font-size="28.0" fill="#2b2b35" xml:space="preserve">6 bar</text>
<text transform="translate(1082.28,1209.2) scale(1.0206,1)" font-size="28.0" fill="#fff" stroke="#fff" stroke-width="3" stroke-linejoin="round" xml:space="preserve">90 °C</text>
<text transform="translate(1082.28,1209.2) scale(1.0206,1)" font-size="28.0" fill="#2b2b35" xml:space="preserve">90 °C</text>
<text transform="translate(971.4,1259.0) scale(0.9237,1)" font-size="28.0" fill="#2b2b35" xml:space="preserve">A polveri epossipoliestere</text>
<text transform="translate(848.07,1306.7) scale(0.9159,1)" font-size="28.0" fill="#fff" stroke="#fff" stroke-width="3" stroke-linejoin="round" xml:space="preserve">Sacchetto nylon, scatola e protezioni in cartone</text>
<text transform="translate(848.07,1306.7) scale(0.9159,1)" font-size="28.0" fill="#2b2b35" xml:space="preserve">Sacchetto nylon, scatola e protezioni in cartone</text>
<text clip-path="url(#c32)" transform="translate(804.05,1357.4) scale(0.9182,1)" font-size="28.0" fill="#2b2b35" xml:space="preserve">1 kit di fissaggi a muro</text>
<text clip-path="url(#c33)" transform="translate(828.59,1392.8) scale(0.9065,1)" font-size="28.0" fill="#2b2b35" xml:space="preserve">- 1 valvola di sfiato</text>
<text clip-path="url(#c34)" transform="translate(1130.46,1357.4) scale(0.9117,1)" font-size="28.0" fill="#2b2b35" xml:space="preserve">1 kit di fissaggi a muro - 1 val-</text>
<text transform="translate(1140.0,1392.8) scale(0.926,1)" font-size="28.0" fill="#2b2b35" xml:space="preserve">vola di sfiato  - 2 tappi ciechi</text>
</svg>
</body></html>
